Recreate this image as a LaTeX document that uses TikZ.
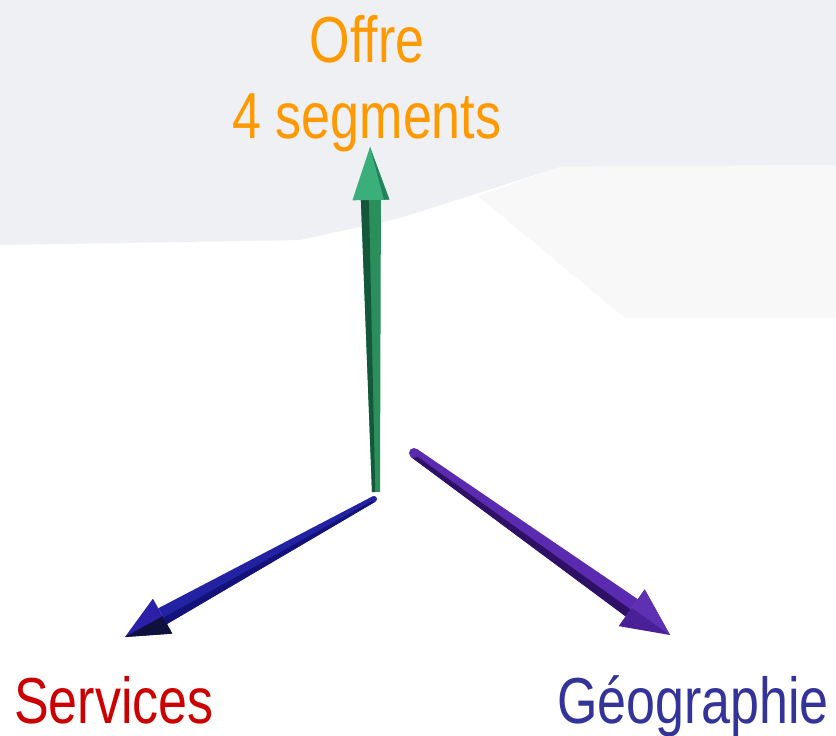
\documentclass[tikz,border=0pt]{standalone}
\usepackage{fontspec}
\usetikzlibrary{calc}
\newfontfamily\narrowsans[FakeStretch=0.8]{Liberation Sans}
\definecolor{offrecol}{HTML}{FF9900}
\definecolor{servcol}{HTML}{CC0000}
\definecolor{geocol}{HTML}{333399}
\definecolor{bggray}{HTML}{EEF0F3}
\definecolor{bglight}{HTML}{F8F8F9}
\definecolor{gmain}{HTML}{2A8F5A}
\definecolor{gdark}{HTML}{14573A}
\definecolor{ghead}{HTML}{3BAF7A}
\definecolor{gheaddark}{HTML}{24835A}
\definecolor{bmain}{HTML}{2222A2}
\definecolor{bdark}{HTML}{12127A}
\definecolor{bhead}{HTML}{2C20A8}
\definecolor{bheaddark}{HTML}{10103C}
\definecolor{pmain}{HTML}{5A2AB0}
\definecolor{pdark}{HTML}{2E1064}
\definecolor{phead}{HTML}{4A2096}
\definecolor{pheadlight}{HTML}{5E30B2}
% geometry of a cone-like arrow: name, tip, head length, head half width, tail half width, base half width
\newcommand\conegeom[6]{%
  \coordinate (#1-hb) at ($(#2)!#3pt!(#1)$);
  \coordinate (#1-tp) at ($(#1)!#5pt!90:(#2)$);
  \coordinate (#1-tm) at ($(#1)!#5pt!-90:(#2)$);
  \coordinate (#1-bp) at ($(#1-hb)!#6pt!-90:(#1)$);
  \coordinate (#1-bm) at ($(#1-hb)!#6pt!90:(#1)$);
  \coordinate (#1-hp) at ($(#1-hb)!#4pt!-90:(#1)$);
  \coordinate (#1-hm) at ($(#1-hb)!#4pt!90:(#1)$);
  \coordinate (#1-tpi) at ($(#1-tp)!0.4!(#1-tm)$);
  \coordinate (#1-tmi) at ($(#1-tm)!0.4!(#1-tp)$);
  \coordinate (#1-bpi) at ($(#1-bp)!0.4!(#1-bm)$);
  \coordinate (#1-bmi) at ($(#1-bm)!0.4!(#1-bp)$);
}
\tikzset{
  label/.style={inner sep=0pt, font=\narrowsans\fontsize{65}{76}\selectfont},
}
\begin{document}
\begin{tikzpicture}[x=1pt,y=-1pt]
\useasboundingbox (0,0) rectangle (836,736);
\fill[white] (0,0) rectangle (836,736);
% background planes
\fill[bggray] (0,0) -- (836,0) -- (836,165) -- (560,167) -- (400,218) -- (300,240) -- (0,245) -- cycle;
\fill[bglight] (478,196) -- (560,167) -- (836,165) -- (836,318) -- (625,318) -- cycle;

% named ends of the three axes
\coordinate (gt) at (376,492);
\coordinate (gh) at (370,147);
\coordinate (bt) at (374,499);
\coordinate (bh) at (125,637);
\coordinate (pt) at (414,453);
\coordinate (ph) at (670,635);

\conegeom{gt}{gh}{53}{18.5}{4}{10}
\conegeom{bt}{bh}{43}{20}{3}{9}
\conegeom{pt}{ph}{47}{22.5}{5}{10.5}

% green axis (Offre)
\fill[gmain] (gt-tp) -- (gt-bp) -- (gt-bm) -- (gt-tm) -- cycle;
\fill[gdark] (gt-tp) -- (gt-bp) -- (gt-bpi) -- (gt-tpi) -- cycle;
\fill[ghead] (gt-hp) -- (gh) -- (gt-hm) -- cycle;
\fill[gheaddark] (gt-hb) -- (gh) -- (gt-hm) -- ($(gt-hb)!0.7!(gt-hm)$) -- cycle;
\fill[ghead] ($(gt-hb)!0.1!(gt-hp)$) -- (gh) -- ($(gt-hb)!0.7!(gt-hm)$) -- cycle;

% blue axis (Services)
\fill[bmain] (bt-tp) -- (bt-bp) -- (bt-bm) -- (bt-tm) -- cycle;
\fill[bdark] (bt-tp) -- (bt-bp) -- (bt-bpi) -- (bt-tpi) -- cycle;
\fill[bmain] (bt) circle (3);
\fill[bhead] (bt-hp) -- (bh) -- (bt-hm) -- cycle;
\fill[bheaddark] (bt-hb) -- (bh) -- (bt-hp) -- ($(bt-hb)!0.15!(bt-hp)$) -- cycle;

% purple axis (Geographie)
\fill[pmain] (pt-tp) -- (pt-bp) -- (pt-bm) -- (pt-tm) -- cycle;
\fill[pdark] (pt-tm) -- (pt-bm) -- (pt-bmi) -- (pt-tmi) -- cycle;
\fill[pmain] (pt) circle (5);
\fill[phead] (pt-hp) -- (ph) -- (pt-hm) -- cycle;
\fill[pheadlight] (pt-hb) -- (ph) -- (pt-hp) -- cycle;

% labels
\node[label, text=offrecol, align=center, anchor=base] (offre) at (367,138) {Offre\\4 segments};
\node[label, text=servcol, anchor=base west] (serv) at (14,723) {Services};
\node[label, text=geocol, anchor=base east] (geo) at (829,723) {Géographie};
\end{tikzpicture}
\end{document}
